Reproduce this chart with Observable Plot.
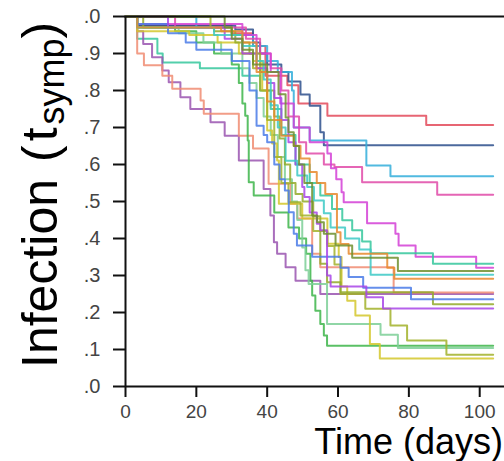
<!DOCTYPE html>
<html>
<head>
<meta charset="utf-8">
<script src="https://cdn.jsdelivr.net/npm/d3@7"></script>
<script src="https://cdn.jsdelivr.net/npm/@observablehq/plot@0.6"></script>
<style>
  html, body { margin: 0; padding: 0; background: #fff; }
</style>
</head>
<body>
<div id="chart"></div>
<script>
// ---- data: step points [time (days), fraction] for each curve ----
const seriesNames = ["red","navy","cyan","pink","violetMagenta","tealGreen","purple","salmon","green","mint","yellow","olive1","olive2","blue","violet","tealCyan","orange","darkOlive"];
const seriesColors = ["#e34a5a","#2d4f8c","#33aedb","#e04aa8","#d43fd6","#35c79c","#9a55b0","#f08c72","#3db54a","#7dcf96","#d4c72c","#a2b22a","#93aa2a","#4a7be8","#a845e8","#3cc9c6","#e8892d","#6f8f2e"];

const red = [[0,1],[3.3,0.975],[30,0.955],[36,0.92],[39.5,0.84],[45.7,0.814],[48.8,0.765],[57,0.732],[84.9,0.707]];
const navy = [[0,1],[3.3,0.975],[31,0.965],[36,0.93],[38,0.9],[40,0.87],[44,0.85],[46,0.824],[49.4,0.789],[52,0.759],[55,0.687],[56,0.652]];
const cyan = [[0,1],[20,0.97],[30,0.95],[36,0.92],[40,0.88],[43,0.85],[47,0.8],[47.5,0.7],[52,0.665],[68,0.597],[74.8,0.568]];
const pink = [[0,1],[14,0.97],[34,0.94],[38,0.9],[41,0.86],[44,0.8],[46,0.73],[49,0.66],[51,0.63],[56,0.6],[59,0.593],[66.8,0.552],[88,0.518]];
const violetMagenta = [[0,1],[3.3,0.98],[33,0.95],[37,0.9],[41,0.85],[43.7,0.765],[47.5,0.7],[52,0.66],[57,0.63],[58,0.59],[59.5,0.56],[61,0.525],[61.6,0.498],[68.2,0.441],[76.2,0.413],[77.1,0.381],[81.9,0.351],[99,0.321]];
const tealGreen = [[0,1],[3.3,0.94],[9,0.9],[10.5,0.876],[21,0.86],[33,0.84],[38,0.8],[41,0.75],[44,0.68],[48,0.6],[52,0.55],[55,0.516],[58.3,0.48],[61.2,0.449],[64,0.422],[66.8,0.392],[69.2,0.36],[86.8,0.332]];
const purple = [[0,1],[3.3,0.96],[5,0.926],[7.5,0.89],[10.4,0.854],[12.2,0.822],[15.5,0.782],[18.3,0.75],[24,0.714],[28,0.678],[32,0.611],[39,0.534],[40.9,0.462],[41.9,0.39],[42.8,0.359],[45.2,0.322],[48,0.286],[55,0.25]];
const salmon = [[0,1],[3.3,0.9],[5.2,0.868],[10.4,0.84],[13.2,0.805],[21.2,0.773],[22.1,0.737],[32,0.678],[36,0.643],[40.4,0.548],[46.6,0.494],[48.5,0.454],[52.7,0.359],[55,0.322],[75.7,0.254]];
const green = [[0,1],[3.3,0.97],[14,0.96],[20,0.93],[25,0.9],[30,0.87],[32,0.82],[33,0.765],[33.8,0.732],[34.5,0.665],[34.8,0.552],[36.2,0.516],[42,0.47],[46,0.43],[49,0.4],[51,0.359],[52.2,0.286],[52.7,0.246],[53.6,0.205],[55,0.169],[56,0.138],[56.9,0.11]];
const mint = [[0,1],[3.3,0.97],[15,0.955],[22,0.93],[27,0.9],[33,0.86],[35,0.82],[37,0.78],[39,0.73],[41,0.68],[43,0.62],[45,0.56],[47,0.5],[48.5,0.45],[49.9,0.376],[50.8,0.314],[51.7,0.277],[56.9,0.169],[72,0.14],[76.9,0.104]];
const yellow = [[0,1],[3.3,0.96],[18,0.95],[26,0.93],[32,0.9],[36,0.88],[38.6,0.8],[40,0.692],[41.4,0.657],[42.8,0.611],[43.3,0.494],[49.9,0.454],[57,0.386],[60.2,0.35],[61,0.27],[62.6,0.232],[64.9,0.192],[69,0.115],[71.8,0.076]];
const olive1 = [[0,1],[24,0.97],[30,0.95],[33,0.9],[36,0.86],[38,0.8],[40,0.72],[42,0.62],[44,0.55],[46,0.498],[49.4,0.462],[53,0.42],[57,0.38],[59,0.33],[60.7,0.25],[67.7,0.21],[74.8,0.165],[79.5,0.124],[90.6,0.086]];
const olive2 = [[0,1],[5,0.97],[25,0.96],[31,0.93],[35,0.9],[38,0.85],[40,0.8],[42,0.73],[43.5,0.67],[45,0.6],[46.5,0.55],[48,0.52],[50,0.5],[53,0.46],[55,0.332],[56.9,0.282],[60.7,0.255],[86.8,0.222]];
const blue = [[0,1],[3.3,0.98],[12,0.955],[17,0.93],[20,0.91],[30,0.88],[35,0.8],[37,0.705],[39,0.68],[40,0.66],[42,0.6],[43.5,0.56],[45,0.53],[46.1,0.471],[47.5,0.413],[48.4,0.381],[52.7,0.351],[60.7,0.321],[63,0.296],[67.1,0.267],[80.6,0.236]];
const violet = [[0,1],[12,0.97],[28,0.94],[33,0.9],[37,0.86],[40,0.82],[42,0.78],[44,0.72],[46,0.66],[48,0.6],[49.9,0.539],[50.5,0.512],[52,0.47],[54,0.44],[55,0.422],[56.9,0.3],[57.9,0.27],[68,0.241],[72.7,0.211]];
const tealCyan = [[0,1],[3.3,0.97],[25,0.95],[33,0.92],[37,0.88],[39,0.83],[41,0.76],[43,0.7],[45.2,0.61],[48.5,0.57],[51.3,0.539],[53.2,0.503],[56,0.468],[57.9,0.43],[62,0.4],[66,0.37],[69.2,0.302]];
const orange = [[0,1],[3.3,0.97],[27,0.96],[33,0.93],[37,0.85],[40,0.77],[42,0.72],[44,0.678],[47.5,0.651],[49.4,0.616],[52,0.58],[54,0.55],[56.4,0.52],[59.7,0.417],[60.7,0.385],[63,0.359],[73.9,0.321],[75.9,0.291]];
const darkOlive = [[0,1],[28,0.97],[30,0.94],[33,0.91],[36,0.87],[40,0.85],[43.2,0.79],[45.2,0.727],[46,0.687],[47.5,0.65],[49,0.6],[50.5,0.55],[52.7,0.462],[54.1,0.444],[56,0.413],[59.3,0.381],[64,0.348],[76.9,0.312]];

const seriesData = [red, navy, cyan, pink, violetMagenta, tealGreen, purple, salmon, green, mint, yellow, olive1, olive2, blue, violet, tealCyan, orange, darkOlive];
const followUpEnd = 103.8;

const xTicks = [0, 20, 40, 60, 80, 100];
const yTicks = [0, 0.1, 0.2, 0.3, 0.4, 0.5, 0.6, 0.7, 0.8, 0.9, 1.0];
const yTickLabels = [".0", ".1", ".2", ".3", ".4", ".5", ".6", ".7", ".8", ".9", ".0"];
const xLabel = "Time (days)";
const yLabelParts = ["Infection", "(", "t", "symp", ")"];

// ---- build table ----
const rows = [];
seriesData.forEach((pts, i) => {
  pts.forEach(([t, v]) => rows.push({name: seriesNames[i], t, v}));
  rows.push({name: seriesNames[i], t: followUpEnd, v: pts[pts.length - 1][1]});
});

const chart = Plot.plot({
  width: 504,
  height: 461,
  marginLeft: 125,
  marginRight: 0,
  marginTop: 16,
  marginBottom: 75,
  style: {fontFamily: "'Liberation Sans', Arial, Helvetica, sans-serif", background: "#fff", color: "#111"},
  x: {domain: [0, 107], axis: null},
  y: {domain: [0, 1], axis: null},
  color: {domain: seriesNames, range: seriesColors},
  marks: [
    Plot.line(rows, {x: "t", y: "v", z: "name", stroke: "name", curve: "step-after", strokeWidth: 2, strokeOpacity: 0.85}),
    Plot.ruleY([1], {stroke: "#111", strokeWidth: 2}),
    Plot.ruleY([0], {stroke: "#111", strokeWidth: 2}),
    Plot.ruleX([0], {y1: 0, y2: 1, stroke: "#111", strokeWidth: 2}),
    Plot.axisY(yTicks, {anchor: "left", tickSize: 12, tickPadding: 13, strokeWidth: 2, stroke: "#111", fill: "#444", fontSize: 20, label: null,
      tickFormat: d => yTickLabels[Math.round(d * 10)]}),
    Plot.axisX(xTicks, {anchor: "bottom", tickSize: 11, tickPadding: 7, strokeWidth: 2, stroke: "#111", fill: "#444", fontSize: 19, label: null})
  ]
});

const svg = d3.select(chart);
// y label with subscript
const yl = svg.append("text")
  .attr("transform", "translate(57,368) rotate(-90)")
  .attr("fill", "#000")
  .attr("font-size", 50)
  .attr("text-anchor", "start");
yl.append("tspan").text(yLabelParts[0]);
yl.append("tspan").attr("dx", 17).text(yLabelParts[1]);
yl.append("tspan").attr("dx", 4).text(yLabelParts[2]);
yl.append("tspan").attr("font-size", 36).attr("dx", 3).attr("dy", 7).text(yLabelParts[3]);
yl.append("tspan").attr("dy", -7).text(yLabelParts[4]);
// x label
svg.append("text")
  .attr("x", 503)
  .attr("y", 454)
  .attr("fill", "#000")
  .attr("font-size", 36)
  .attr("text-anchor", "end")
  .text(xLabel);

document.getElementById("chart").appendChild(chart);
</script>
</body>
</html>
